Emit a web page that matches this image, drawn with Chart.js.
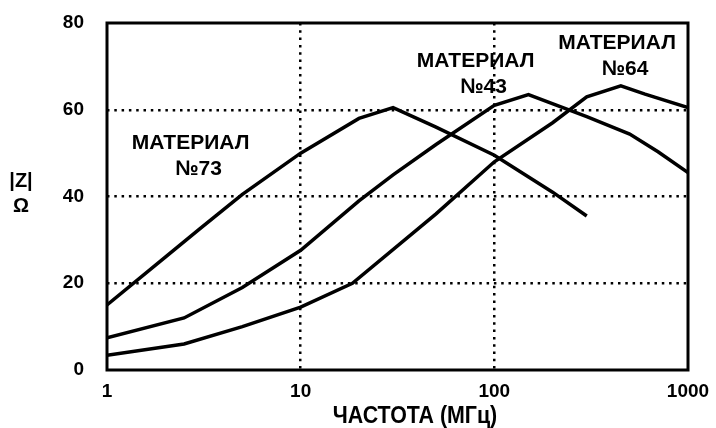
<!DOCTYPE html>
<html>
<head>
<meta charset="utf-8">
<script src="https://cdn.jsdelivr.net/npm/chart.js@4/dist/chart.umd.min.js"></script>
<style>
  html, body { margin: 0; padding: 0; background: #fff; }
  #wrap { width: 716px; height: 428px; }
</style>
</head>
<body>
<div id="wrap"><canvas id="zChart" width="716" height="428"></canvas></div>
<script>
// frequency (MHz) / impedance (Ohm)
var freq73 = [1, 2, 3, 5, 10, 20, 30, 50, 100, 200, 300];
var imp73  = [15, 26, 32.5, 40.5, 50, 58, 60.5, 56, 49.5, 41, 35.5];

var freq43 = [1, 2.5, 5, 10, 20, 30, 50, 100, 150, 300, 500, 700, 1000];
var imp43  = [7.4, 12, 19, 27.6, 39, 45, 52, 61, 63.5, 58.4, 54.4, 50.3, 45.5];

var freq64 = [1, 2.5, 5, 10, 18.5, 50, 100, 200, 300, 450, 600, 1000];
var imp64  = [3.4, 6, 10, 14.5, 20, 36, 48, 57, 63, 65.5, 63.6, 60.5];

var xTicks = [1, 10, 100, 1000];
var yTicks = [0, 20, 40, 60, 80];

var labels73 = ["МАТЕРИАЛ", "№73"];
var labels43 = ["МАТЕРИАЛ", "№43"];
var labels64 = ["МАТЕРИАЛ", "№64"];

var xTitle = "ЧАСТОТА (МГц)";
var yTitle = ["|Z|", "Ω"];

var FONT = "'Liberation Sans', Arial, sans-serif";

function toPoints(xs, ys) {
    var pts = [];
    for (var i = 0; i < xs.length; i++) {
        pts.push({x: xs[i], y: ys[i]});
    }
    return pts;
}

function lineSet(label, xs, ys) {
    return {
        label: label,
        data: toPoints(xs, ys),
        borderColor: "#000",
        borderWidth: 3.5,
        pointRadius: 0,
        tension: 0,
        fill: false
    };
}

// labels anchored in data coordinates
var notes = [
    {lines: labels73, x: 2.7, y: 52.4},
    {lines: labels43, x: 80, y: 71.3},
    {lines: labels64, x: 430, y: 75.3}
];

var textPlugin = {
    id: "textPlugin",
    afterDraw: function(chart) {
        var ctx = chart.ctx;
        var a = chart.chartArea;
        var xs = chart.scales.x, ys = chart.scales.y;

        ctx.save();
        ctx.strokeStyle = "#000";
        ctx.lineWidth = 3;
        ctx.strokeRect(a.left, a.top, a.right - a.left, a.bottom - a.top);

        ctx.fillStyle = "#000";
        ctx.textAlign = "center";
        ctx.textBaseline = "middle";
        ctx.font = "bold 21px " + FONT;
        notes.forEach(function(n) {
            var px = xs.getPixelForValue(n.x);
            var py = ys.getPixelForValue(n.y);
            n.lines.forEach(function(t, i) {
                // the "№" line sits a little right of centre in the original
                ctx.fillText(t, px + i * 8, py + i * 26);
            });
        });

        ctx.font = "bold 20px " + FONT;
        ctx.fillText(yTitle[0], 21, 181);
        ctx.fillText(yTitle[1], 21, 206);

        // x title is a bit condensed in the original
        ctx.save();
        ctx.translate(415, 417);
        ctx.scale(0.93, 1);
        ctx.font = "bold 23px " + FONT;
        ctx.fillText(xTitle, 0, 0);
        ctx.restore();
        ctx.restore();
    }
};

function edgeColor(values) {
    return function(c) {
        if (!c.tick) return "rgba(0,0,0,0)";
        var v = c.tick.value;
        if (v === values[0] || v === values[values.length - 1]) return "rgba(0,0,0,0)";
        return "#000";
    };
}

var ctx = document.getElementById("zChart");
new Chart(ctx, {
    type: "line",
    data: {
        datasets: [
            lineSet("73", freq73, imp73),
            lineSet("43", freq43, imp43),
            lineSet("64", freq64, imp64)
        ]
    },
    options: {
        responsive: false,
        animation: false,
        layout: { padding: { top: 23, right: 28, left: 0, bottom: 0 } },
        plugins: {
            legend: { display: false },
            tooltip: { enabled: false }
        },
        scales: {
            x: {
                type: "logarithmic",
                min: 1,
                max: 1000,
                afterBuildTicks: function(scale) {
                    scale.ticks = xTicks.map(function(v) { return {value: v}; });
                },
                afterFit: function(scale) {
                    scale.height = 58;
                    scale.paddingLeft = 0;
                    scale.paddingRight = 0;
                },
                ticks: {
                    autoSkip: false,
                    maxRotation: 0,
                    padding: 10,
                    color: "#000",
                    font: { family: FONT, size: 19, weight: "bold" },
                    callback: function(v) { return String(v); }
                },
                grid: {
                    color: edgeColor(xTicks),
                    lineWidth: 2.5,
                    drawTicks: false
                },
                border: { display: false, dash: [2.5, 4.8] }
            },
            y: {
                min: 0,
                max: 80,
                afterBuildTicks: function(scale) {
                    scale.ticks = yTicks.map(function(v) { return {value: v}; });
                },
                afterFit: function(scale) {
                    scale.width = 107;
                    scale.paddingTop = 0;
                    scale.paddingBottom = 0;
                },
                ticks: {
                    padding: 23,
                    color: "#000",
                    font: { family: FONT, size: 19, weight: "bold" }
                },
                grid: {
                    color: edgeColor(yTicks),
                    lineWidth: 2.5,
                    drawTicks: false
                },
                border: { display: false, dash: [2.5, 4.8] }
            }
        }
    },
    plugins: [textPlugin]
});
</script>
</body>
</html>
